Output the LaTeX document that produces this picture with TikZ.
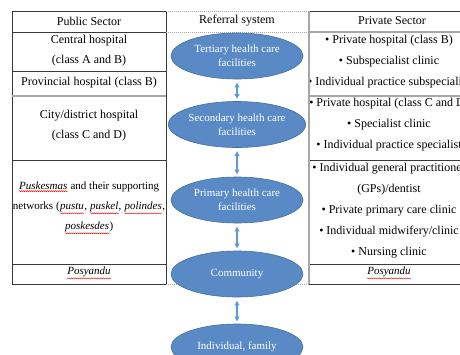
\documentclass[tikz,border=0pt]{standalone}
\usepackage{fontspec}
\setmainfont{Liberation Serif}
\usepackage{xcolor}
\usepackage{tikz}
\usetikzlibrary{shapes.geometric,arrows.meta,positioning,decorations.pathmorphing}

\definecolor{ellfill}{HTML}{5A8AC6}
\definecolor{elledge}{HTML}{41719C}
\definecolor{arrblue}{HTML}{5B9BD5}
\definecolor{darkrule}{HTML}{3A3A3A}
\definecolor{lightrule}{HTML}{A6A6A6}

\newcommand{\spellmark}[1]{\tikz[baseline=(sw.base)]{%
    \node[inner sep=0pt, font=\itshape] (sw) {#1};
    \draw[red, line width=0.4pt, decorate,
        decoration={snake, amplitude=0.5pt, segment length=2pt}]
        ([yshift=-1.2pt]sw.south west) -- ([yshift=-1.2pt]sw.south east);}}

\tikzset{
  cell/.style={font=\fontsize{12}{20}\selectfont, align=center, inner sep=0pt},
  privcell/.style={font=\fontsize{12}{21}\selectfont, align=center, inner sep=0pt},
  level/.style={ellipse, fill=ellfill, draw=elledge, line width=0.6pt,
    minimum width=132pt, minimum height=46pt, inner sep=0pt, text=white,
    align=center, font=\fontsize{11}{14}\selectfont},
  link/.style={arrblue, line width=1.1pt,
    {Latex[length=5pt,width=5.5pt]}-{Latex[length=5pt,width=5.5pt]}},
}

\begin{document}
\begin{tikzpicture}[x=1pt,y=-1pt]
    \useasboundingbox (0,0) rectangle (460,354);

    % Public sector
    \draw[darkrule, line width=0.8pt] (12,11) rectangle (166,284);
    \foreach \y in {32,71,160,264}
        \draw[darkrule, line width=0.6pt] (12,\y) -- (166,\y);
    \draw[lightrule, line width=1.4pt] (12,96) -- (166,96);
    \node[cell] (pubhead) at (89,21) {Public Sector};
    \node[cell] (central) at (89,50.5) {Central hospital\\(class A and B)};
    \node[cell] (provincial) at (89,83) {Provincial hospital (class B)};
    \node[cell] (city) at (89,126) {City/district hospital\\(class C and D)};
    \node[cell, font=\fontsize{11}{20}\selectfont] (puskesmas) at (89,208)
        {\spellmark{Puskesmas} and their supporting\\
        networks (\spellmark{pustu}, \spellmark{puskel}, \spellmark{polindes},\\
        \spellmark{poskesdes})};
    \node[cell, font=\fontsize{11}{20}\selectfont] (pubposyandu) at (89,273) {\spellmark{Posyandu}};

    % Referral system
    \draw[lightrule, line width=0.5pt, dash pattern=on 1pt off 1pt] (166,11) -- (309,11);
    \draw[lightrule, line width=0.5pt, dash pattern=on 1pt off 1pt] (166,32) -- (309,32);
    \draw[lightrule, line width=0.5pt, dash pattern=on 1pt off 1pt] (166,284) -- (309,284);
    \node[cell] (refhead) at (237,21) {Referral system};
    \node[level] (tert) at (237,56) {Tertiary health care\\facilities};
    \node[level] (sec) at (237,124.5) {Secondary health care\\facilities};
    \node[level] (prim) at (237,200) {Primary health care\\facilities};
    \node[level] (comm) at (237,274) {Community};
    \node[level] (indiv) at (237,347) {Individual,\ family};
    \draw[link] ([yshift=-3pt]tert.south) -- ([yshift=2pt]sec.north);
    \draw[link] ([yshift=-3pt]sec.south) -- ([yshift=2pt]prim.north);
    \draw[link] ([yshift=-3pt]prim.south) -- ([yshift=2pt]comm.north);
    \draw[link] ([yshift=-3pt]comm.south) -- ([yshift=2pt]indiv.north);

    % Private sector
    \draw[darkrule, line width=0.8pt] (309,11) -- (460,11);
    \foreach \y in {160,264,284}
        \draw[darkrule, line width=0.6pt] (309,\y) -- (460,\y);
    \foreach \y in {32,96}
        \draw[lightrule, line width=1.2pt] (309,\y) -- (460,\y);
    \draw[lightrule, line width=1.5pt] (309,11) -- (309,284);
    \begin{scope}
        \clip (310,0) rectangle (460,354);
        \node[cell] (privhead) at (392,21) {Private Sector};
        \node[privcell] (tertpriv) at (389,62) {\textbullet{} Private hospital (class B)\\
            \textbullet{} Subspecialist clinic\\
            \textbullet{} Individual practice subspecialist};
        \node[privcell] (secpriv) at (389,125) {\textbullet{} Private hospital (class C and D)\\
            \textbullet{} Specialist clinic\\
            \textbullet{} Individual practice specialist};
        \node[privcell] (primpriv) at (389,211) {\textbullet{} Individual general practitioner\\
            (GPs)/dentist\\
            \textbullet{} Private primary care clinic\\
            \textbullet{} Individual midwifery/clinic\\
            \textbullet{} Nursing clinic};
        \node[cell, font=\fontsize{11}{20}\selectfont] (privposyandu) at (389,273) {\spellmark{Posyandu}};
    \end{scope}
\end{tikzpicture}
\end{document}
